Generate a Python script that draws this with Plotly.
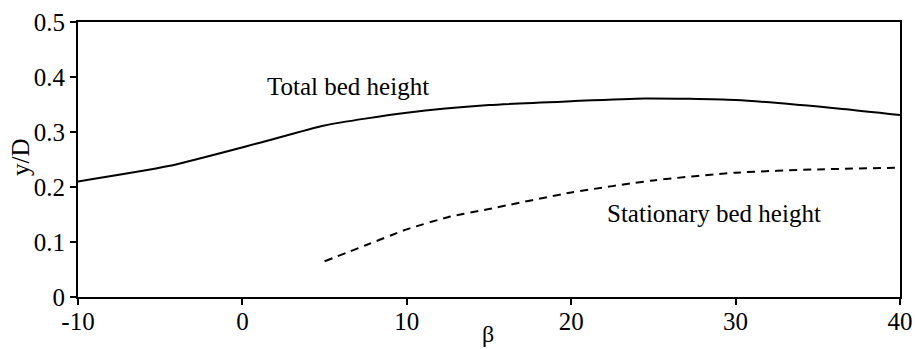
import plotly.graph_objects as go

# Total bed height vs. inclination angle beta
beta_total = [-10, -4.5, 1, 5, 10, 15, 20, 24.5, 30, 36.5, 40]
h_total = [0.21, 0.238, 0.28, 0.312, 0.335, 0.349, 0.356, 0.361, 0.358, 0.342, 0.331]

# Stationary bed height vs. inclination angle beta
beta_stat = [5, 7.5, 10, 12.5, 15, 20, 25, 30, 35, 40]
h_stat = [0.065, 0.094, 0.123, 0.145, 0.16, 0.19, 0.212, 0.226, 0.232, 0.235]

x_ticks = [-10, 0, 10, 20, 30, 40]
x_tick_text = ["-10", "0", "10", "20", "30", "40"]
y_ticks = [0, 0.1, 0.2, 0.3, 0.4, 0.5]
y_tick_text = ["0", "0.1", "0.2", "0.3", "0.4", "0.5"]

FONT = "Liberation Serif"
FS = 25
font = dict(family=FONT, size=FS, color="black")

fig = go.Figure()
fig.add_trace(go.Scatter(x=beta_total, y=h_total, mode="lines",
                         line=dict(color="black", width=2, shape="spline", smoothing=0.6),
                         showlegend=False))
fig.add_trace(go.Scatter(x=beta_stat, y=h_stat, mode="lines",
                         line=dict(color="black", width=2, dash="8px,6px",
                                   shape="spline", smoothing=0.6),
                         showlegend=False))

# Curve labels
fig.add_annotation(x=6.4, y=0.383, text="Total bed height", showarrow=False, font=font)
fig.add_annotation(x=28.7, y=0.152, text="Stationary bed height", showarrow=False, font=font)

# Axis titles
fig.add_annotation(xref="paper", yref="paper", x=0.499, y=0, yshift=-37,
                   yanchor="middle", text="β", showarrow=False,
                   font=dict(family=FONT, size=24, color="black"))
fig.add_annotation(xref="paper", yref="paper", x=0, xshift=-58, y=0.509,
                   xanchor="center", yanchor="middle", text="y/D", textangle=-90,
                   showarrow=False, font=font)

fig.update_xaxes(range=[-10, 40], tickvals=x_ticks, ticktext=x_tick_text,
                 ticks="outside", ticklen=6, automargin=False, ticklabelstandoff=-5,
                 tickwidth=2, tickcolor="black", showline=True, linecolor="black",
                 linewidth=2, mirror=True, showgrid=False, zeroline=False,
                 tickfont=font)
fig.update_yaxes(range=[0, 0.5], tickvals=y_ticks, ticktext=y_tick_text,
                 ticks="outside", ticklen=6, tickwidth=2, tickcolor="black",
                 showline=True, linecolor="black", linewidth=2, mirror=True,
                 showgrid=False, zeroline=False, automargin=False,
                 tickfont=font)

fig.update_layout(width=915, height=349, margin=dict(l=78, r=15, t=22, b=52),
                  plot_bgcolor="white", paper_bgcolor="white")

fig.write_html("out.html")
